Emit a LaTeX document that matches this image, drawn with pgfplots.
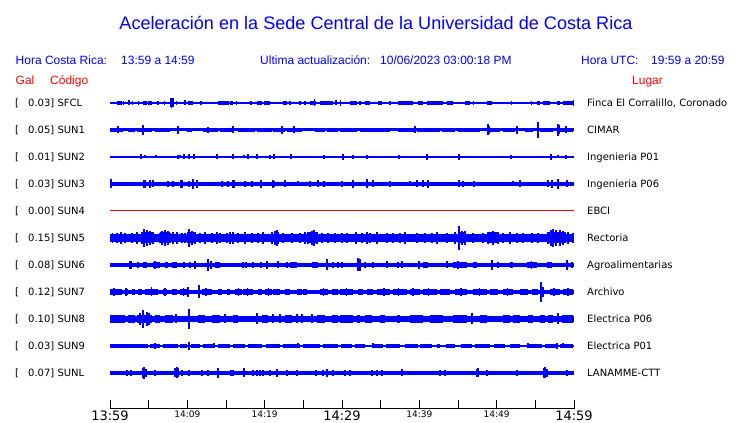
\documentclass[border=0pt]{standalone}
\usepackage{fontspec}
\usepackage{pgfplots}
\pgfplotsset{compat=1.18}
\setmainfont{DejaVu Sans}
\newfontfamily\lib{Liberation Sans}
\newfontfamily\dv{DejaVu Sans}
\newcommand{\BL}[1]{{\dv\fontsize{13}{13}\selectfont #1}}
\newcommand{\SL}[1]{{\dv\fontsize{9}{9}\selectfont #1}}
\pgfplotsset{
  base/.style={blue, line width=#1, line cap=butt},
  blk/.style={blue, line width=#1, line cap=butt, unbounded coords=jump},
  spk/.style={draw=none, error bars/y dir=both, error bars/y explicit, error bars/error mark=none,
    error bars/error bar style={draw=blue, line width=#1, line cap=butt}},
}
\begin{document}
\begin{tikzpicture}
\useasboundingbox (0,0) rectangle (740pt,423pt);
\begin{axis}[at={(110pt,14pt)}, anchor=south west,
  width=464pt, height=409pt, scale only axis,
  xmin=0, xmax=60, ymin=0, ymax=409, clip=false,
  axis x line=bottom, axis y line=none,
  x axis line style={-, line width=1pt, black},
  xtick={0,5,...,60}, ytick=\empty,
  tick align=inside, major tick length=9pt,
  xtick style={black, line width=0.8pt},
  xticklabels={\BL{13:59},,\SL{14:09},,\SL{14:19},,\BL{14:29},,\SL{14:39},,\SL{14:49},,\BL{14:59}},
  xticklabel style={anchor=north, inner sep=0pt, yshift=-2pt},
]
% ---------- SFCL (y=306)
\addplot[base=1.2] coordinates {(0,306) (60,306)};
\addplot[blk=3.5] table[row sep=\\] {x y\\
0.87 306\\ 1.51 306\\ nan nan\\ 2.81 306\\ 3.01 306\\ nan nan\\ 4.23 306\\ 4.75 306\\ nan nan\\
4.95 306\\ 5.39 306\\ nan nan\\ 6.04 306\\ 6.34 306\\ nan nan\\ 7.76 306\\ 8.28 306\\ nan nan\\
10.12 306\\ 10.77 306\\ nan nan\\ 11.64 306\\ 11.86 306\\ nan nan\\ 14.00 306\\ 15.39 306\\ nan nan\\
15.52 306\\ 15.94 306\\ nan nan\\ 18.10 306\\ 18.40 306\\ nan nan\\ 18.97 306\\ 19.62 306\\ nan nan\\
19.95 306\\ 20.65 306\\ nan nan\\ 22.41 306\\ 22.85 306\\ nan nan\\ 25.86 306\\ 26.60 306\\ nan nan\\
27.16 306\\ 28.88 306\\ nan nan\\ 31.03 306\\ 31.90 306\\ nan nan\\ 32.97 306\\ 33.62 306\\ nan nan\\
34.69 306\\ 35.13 306\\ nan nan\\ 37.28 306\\ 39.22 306\\ nan nan\\ 39.87 306\\ 40.51 306\\ nan nan\\
40.95 306\\ 43.10 306\\ nan nan\\ 43.54 306\\ 44.39 306\\ nan nan\\ 45.91 306\\ 46.55 306\\ nan nan\\
48.71 306\\ 49.36 306\\ nan nan\\ 55.18 306\\ 55.60 306\\ nan nan\\ 56.03 306\\ 56.90 306\\ nan nan\\
57.76 306\\ 58.19 306\\ nan nan\\ 58.62 306\\ 59.91 306\\};
\addplot[spk=1.2] table[row sep=\\, x=t, y=y, y error=h] {t y h\\
1.72 306 2\\ 2.46 306 2.5\\ 3.66 306 2\\ 7.02 306 2\\ 7.85 306 4.5\\ 8.0 306 5\\ 8.15 306 4.5\\
8.62 306 2\\ 9.70 306 2.5\\ 16.38 306 2\\ 23.28 306 2\\ 24.57 306 2\\ 25.22 306 2\\ 26.40 306 3.5\\
29.22 306 2.5\\ 29.85 306 3\\ 32.33 306 2\\ 36.21 306 2\\ 46.98 306 2\\ 51.94 306 2\\ 54.53 306 2\\ 59.97 306 3\\};
% ---------- SUN1 (y=279)
\addplot[base=3] coordinates {(0,279) (60,279)};
\addplot[blk=4.2] table[row sep=\\] {x y\\
0 279\\ 1.68 279\\ nan nan\\ 2.33 279\\ 3.23 279\\ nan nan\\ 3.49 279\\ 5.43 279\\ nan nan\\
5.82 279\\ 7.76 279\\ nan nan\\ 9.96 279\\ 10.60 279\\ nan nan\\ 12.03 279\\ 13.97 279\\ nan nan\\
14.22 279\\ 15.90 279\\ nan nan\\ 16.55 279\\ 18.75 279\\ nan nan\\ 19.01 279\\ 20.95 279\\ nan nan\\
21.08 279\\ 22.63 279\\ nan nan\\ 22.89 279\\ 24.83 279\\ nan nan\\ 26.51 279\\ 27.80 279\\ nan nan\\
28.06 279\\ 29.48 279\\ nan nan\\ 29.74 279\\ 31.94 279\\ nan nan\\ 32.33 279\\ 36.21 279\\ nan nan\\
37.24 279\\ 39.44 279\\ nan nan\\ 39.70 279\\ 42.67 279\\ nan nan\\ 42.93 279\\ 44.61 279\\ nan nan\\
45.00 279\\ 47.84 279\\ nan nan\\ 49.14 279\\ 50.43 279\\ nan nan\\ 50.82 279\\ 52.37 279\\ nan nan\\
53.66 279\\ 54.70 279\\ nan nan\\ 55.60 279\\ 57.28 279\\ nan nan\\ 57.80 279\\ 59.87 279\\};
\addplot[spk=1.2] table[row sep=\\, x=t, y=y, y error=h] {t y h\\
1.03 279 3.5\\ 4.27 279 5\\ 8.79 279 4\\ 12.67 279 3\\ 15.90 279 3.5\\ 22.24 279 4\\ 23.79 279 3.5\\
39.44 279 3.5\\ 48.88 279 5.5\\ 49.10 279 4\\ 52.63 279 4\\ 55.34 279 8\\ 57.93 279 6\\ 58.10 279 4.5\\ 58.97 279 3.5\\};
% ---------- SUN2 (y=252)
\addplot[base=1.2] coordinates {(0,252) (60,252)};
\addplot[spk=1.2] table[row sep=\\, x=t, y=y, y error=h] {t y h\\
4.01 252 2.5\\ 4.53 252 1.5\\ 5.95 252 1.5\\ 8.79 252 2\\ 9.05 252 1.5\\ 9.57 252 2.5\\ 10.22 252 2.5\\
10.86 252 2.5\\ 13.84 252 2.5\\ 15.90 252 2.5\\ 17.33 252 1.5\\ 17.84 252 2.5\\ 19.01 252 2.5\\ 20.69 252 2\\
21.21 252 2.5\\ 23.40 252 2.5\\ 27.67 252 2\\ 30.13 252 3\\ 31.42 252 2\\ 33.23 252 2\\ 37.37 252 2\\
40.99 252 3\\ 45.13 252 3\\ 51.85 252 2\\ 57.03 252 3\\ 57.93 252 1.5\\ 58.97 252 2\\};
% ---------- SUN3 (y=225)
\addplot[base=4.2] coordinates {(0,225) (60,225)};
\addplot[spk=1.5] table[row sep=\\, x=t, y=y, y error=h] {t y h\\
0.10 225 4.5\\ 4.40 225 4\\ 4.60 225 4\\ 5.17 225 4\\ 5.56 225 3.5\\ 7.50 225 3\\ 8.15 225 3\\ 9.10 225 4\\
9.30 225 4\\ 10.22 225 3\\ 10.73 225 5\\ 11.25 225 4\\ 14.48 225 3\\ 15.26 225 3\\ 15.90 225 4\\
16.05 225 4\\ 17.46 225 3\\ 18.36 225 3\\ 19.53 225 4\\ 21.08 225 4\\ 21.30 225 3\\ 22.63 225 3.5\\
24.31 225 2.5\\ 25.86 225 3\\ 26.90 225 3.5\\ 27.67 225 3\\ 30.00 225 3\\ 31.42 225 4\\ 33.23 225 4.5\\
34.01 225 3.5\\ 36.21 225 3\\ 38.79 225 2.5\\ 39.70 225 3.5\\ 40.48 225 3.5\\ 41.12 225 4\\ 45.13 225 3.5\\
45.65 225 3\\ 47.07 225 3\\ 52.11 225 2.5\\ 53.02 225 3.5\\ 56.64 225 3.5\\ 57.16 225 4\\ 57.93 225 5\\ 59.10 225 3.5\\};
% ---------- SUN4 (y=198)
\addplot[red, line width=1pt] coordinates {(0,198) (60,198)};
% ---------- SUN5 (y=171)
\addplot[base=8.5] coordinates {(0,171) (60,171)};
\addplot[blk=11] table[row sep=\\] {x y\\
4.0 171\\ 5.6 171\\ nan nan\\ 6.5 171\\ 7.8 171\\ nan nan\\ 10.0 171\\ 11.0 171\\ nan nan\\
21.2 171\\ 21.8 171\\ nan nan\\ 25.5 171\\ 26.8 171\\ nan nan\\ 45.0 171\\ 46.0 171\\ nan nan\\
48.8 171\\ 50.2 171\\ nan nan\\ 56.5 171\\ 59.0 171\\};
\addplot[spk=1.5] table[row sep=\\, x=t, y=y, y error=h] {t y h\\
0.30 171 5\\ 0.91 171 5\\ 1.42 171 6\\ 1.94 171 5\\ 2.84 171 5\\ 3.49 171 6\\ 4.14 171 6\\ 4.40 171 9\\
4.78 171 8\\ 5.17 171 7\\ 5.56 171 6\\ 6.47 171 5\\ 6.72 171 7\\ 7.11 171 8\\ 7.50 171 7\\ 7.76 171 5\\
8.15 171 6\\ 8.66 171 6\\ 9.31 171 5\\ 9.70 171 5\\ 10.22 171 9\\ 10.60 171 7\\ 10.99 171 6\\ 11.64 171 5\\
12.28 171 6\\ 13.19 171 5\\ 13.84 171 6\\ 14.22 171 5\\ 15.13 171 5\\ 15.52 171 6\\ 15.90 171 6\\ 16.55 171 5\\
17.46 171 6\\ 18.36 171 5\\ 19.14 171 5\\ 19.78 171 6\\ 20.95 171 6\\ 21.34 171 7\\ 21.59 171 8\\ 21.72 171 6\\
22.37 171 5\\ 23.53 171 5\\ 24.57 171 5\\ 25.22 171 6\\ 25.60 171 6\\ 26.12 171 7\\ 26.38 171 8\\ 26.77 171 6\\
27.41 171 5\\ 28.19 171 5\\ 29.09 171 5\\ 30.00 171 5\\ 30.65 171 5\\ 31.81 171 6\\ 32.59 171 5\\ 33.23 171 6\\
33.62 171 5\\ 34.53 171 6\\ 35.82 171 5\\ 36.59 171 5\\ 37.50 171 5\\ 38.15 171 6\\ 39.70 171 5\\ 40.73 171 5\\
41.64 171 5\\ 42.28 171 6\\ 43.58 171 5\\ 44.61 171 6\\ 45.13 171 12\\ 45.52 171 7\\ 45.91 171 7\\ 46.94 171 5\\
48.23 171 5\\ 48.88 171 6\\ 49.53 171 7\\ 50.17 171 6\\ 50.82 171 5\\ 51.72 171 6\\ 52.63 171 5\\ 53.41 171 5\\
54.57 171 5\\ 55.34 171 5\\ 56.64 171 6\\ 57.03 171 8\\ 57.28 171 9\\ 57.67 171 8\\ 58.19 171 8\\ 58.58 171 7\\
59.22 171 6\\ 59.87 171 5\\};
% ---------- SUN6 (y=144)
\addplot[base=3.5] coordinates {(0,144) (60,144)};
\addplot[blk=6.5] table[row sep=\\] {x y\\
4.27 144\\ 4.78 144\\ nan nan\\ 5.56 144\\ 6.47 144\\ nan nan\\ 7.11 144\\ 7.50 144\\ nan nan\\
8.02 144\\ 8.66 144\\ nan nan\\ 13.58 144\\ 14.22 144\\ nan nan\\ 19.40 144\\ 19.66 144\\ nan nan\\
23.28 144\\ 24.18 144\\ nan nan\\ 26.12 144\\ 26.90 144\\ nan nan\\ 40.48 144\\ 41.12 144\\ nan nan\\
44.35 144\\ 46.16 144\\ nan nan\\ 46.94 144\\ 47.46 144\\ nan nan\\ 51.72 144\\ 52.11 144\\ nan nan\\
53.92 144\\ 55.21 144\\ nan nan\\ 56.51 144\\ 57.16 144\\};
\addplot[spk=1.5] table[row sep=\\, x=t, y=y, y error=h] {t y h\\
2.59 144 4\\ 2.72 144 4\\ 3.62 144 3\\ 5.80 144 4\\ 9.57 144 3\\ 10.34 144 3\\ 10.99 144 4\\ 12.67 144 6\\ 13.06 144 4\\
17.20 144 3\\ 17.59 144 3\\ 18.49 144 3\\ 20.30 144 4\\ 21.72 144 3.5\\ 22.89 144 3\\ 28.06 144 5.5\\
28.84 144 3\\ 29.48 144 3\\ 30.00 144 3\\ 32.07 144 6.5\\ 32.33 144 6\\ 32.97 144 3\\ 34.01 144 3\\
35.82 144 3.5\\ 37.24 144 3\\ 37.76 144 3.5\\ 39.96 144 4\\ 43.58 144 3.5\\ 45.0 144 4\\ 49.40 144 5\\ 50.17 144 3\\
54.5 144 4\\ 59.10 144 5\\ 59.74 144 3\\};
% ---------- SUN7 (y=117)
\addplot[base=4.5] coordinates {(0,117) (60,117)};
\addplot[blk=6.2] table[row sep=\\] {x y\\
0 117\\ 1.55 117\\ nan nan\\ 1.94 117\\ 2.33 117\\ nan nan\\ 2.84 117\\ 3.23 117\\ nan nan\\
3.62 117\\ 4.14 117\\ nan nan\\ 4.53 117\\ 6.21 117\\ nan nan\\ 6.85 117\\ 7.37 117\\ nan nan\\
8.02 117\\ 8.66 117\\ nan nan\\ 9.05 117\\ 9.96 117\\ nan nan\\ 11.90 117\\ 13.19 117\\ nan nan\\
13.97 117\\ 14.48 117\\ nan nan\\ 15.13 117\\ 15.52 117\\ nan nan\\ 16.16 117\\ 17.07 117\\ nan nan\\
17.20 117\\ 18.49 117\\ nan nan\\ 19.14 117\\ 19.66 117\\ nan nan\\ 20.04 117\\ 20.95 117\\ nan nan\\
21.08 117\\ 21.98 117\\ nan nan\\ 22.63 117\\ 23.28 117\\ nan nan\\ 24.18 117\\ 24.83 117\\ nan nan\\
24.96 117\\ 25.47 117\\ nan nan\\ 27.16 117\\ 28.19 117\\ nan nan\\ 28.71 117\\ 29.48 117\\ nan nan\\
29.74 117\\ 31.42 117\\ nan nan\\ 32.07 117\\ 32.72 117\\ nan nan\\ 33.23 117\\ 34.01 117\\ nan nan\\
34.53 117\\ 36.21 117\\ nan nan\\ 36.59 117\\ 38.40 117\\ nan nan\\ 38.79 117\\ 40.09 117\\ nan nan\\
40.48 117\\ 42.28 117\\ nan nan\\ 42.67 117\\ 43.97 117\\ nan nan\\ 44.61 117\\ 46.16 117\\ nan nan\\
46.94 117\\ 48.75 117\\ nan nan\\ 49.14 117\\ 50.17 117\\ nan nan\\ 50.82 117\\ 52.11 117\\ nan nan\\
53.02 117\\ 54.05 117\\ nan nan\\ 54.57 117\\ 55.34 117\\ nan nan\\ 56.90 117\\ 58.19 117\\ nan nan\\
58.58 117\\ 59.87 117\\};
\addplot[spk=1.5] table[row sep=\\, x=t, y=y, y error=h] {t y h\\
0.5 117 4\\ 2.1 117 4\\ 5.39 117 4.5\\ 7.1 117 4\\ 9.5 117 4\\ 10.09 117 5\\ 11.51 117 6.5\\ 12.4 117 4\\
16.6 117 4\\ 17.8 117 4\\ 20.5 117 4\\ 27.6 117 4\\ 30.6 117 4\\ 35.4 117 4\\ 37.3 117 4\\ 39.2 117 4\\
41.2 117 4\\ 45.4 117 4\\ 47.8 117 4\\ 51.4 117 4\\ 55.73 117 10\\ 55.99 117 5\\ 57.4 117 4\\ 59.2 117 4\\};
% ---------- SUN8 (y=90)
\addplot[base=6] coordinates {(0,90) (60,90)};
\addplot[blk=8.5] table[row sep=\\] {x y\\
0 90\\ 1.94 90\\ nan nan\\ 2.33 90\\ 3.23 90\\ nan nan\\ 3.49 90\\ 5.43 90\\ nan nan\\
5.82 90\\ 6.47 90\\ nan nan\\ 7.11 90\\ 8.15 90\\ nan nan\\ 11.38 90\\ 12.28 90\\ nan nan\\
13.19 90\\ 14.22 90\\ nan nan\\ 15.90 90\\ 16.55 90\\ nan nan\\ 19.66 90\\ 20.43 90\\ nan nan\\
22.63 90\\ 23.53 90\\ nan nan\\ 26.77 90\\ 27.80 90\\ nan nan\\ 28.71 90\\ 29.48 90\\ nan nan\\
29.74 90\\ 31.42 90\\ nan nan\\ 31.94 90\\ 32.33 90\\ nan nan\\ 32.97 90\\ 33.88 90\\ nan nan\\
34.91 90\\ 35.56 90\\ nan nan\\ 37.11 90\\ 37.50 90\\ nan nan\\ 38.79 90\\ 40.48 90\\ nan nan\\
41.38 90\\ 43.06 90\\ nan nan\\ 44.35 90\\ 46.16 90\\ nan nan\\ 47.84 90\\ 48.75 90\\ nan nan\\
50.82 90\\ 51.72 90\\ nan nan\\ 52.11 90\\ 53.02 90\\ nan nan\\ 54.05 90\\ 54.70 90\\ nan nan\\
55.60 90\\ 56.25 90\\ nan nan\\ 56.64 90\\ 57.28 90\\ nan nan\\ 58.45 90\\ 59.87 90\\};
\addplot[spk=1.5] table[row sep=\\, x=t, y=y, y error=h] {t y h\\
3.88 90 6\\ 4.27 90 9\\ 4.78 90 7\\ 5.04 90 6\\ 8.53 90 4.5\\ 10.22 90 10\\ 14.87 90 4.5\\ 19.01 90 5.5\\
21.08 90 4.5\\ 21.98 90 4.5\\ 24.18 90 4.5\\ 24.83 90 4.5\\ 26.12 90 4.5\\ 46.81 90 5.5\\ 57.93 90 5.5\\};
% ---------- SUN9 (y=63)
\addplot[base=1.5] coordinates {(0,63) (60,63)};
\addplot[blk=3.1] table[row sep=\\] {x y\\
0 63\\ 4.91 63\\ nan nan\\ 5.17 63\\ 6.47 63\\ nan nan\\ 6.85 63\\ 8.79 63\\ nan nan\\
9.05 63\\ 9.96 63\\ nan nan\\ 10.47 63\\ 11.64 63\\ nan nan\\ 12.03 63\\ 13.58 63\\ nan nan\\
13.97 63\\ 15.52 63\\ nan nan\\ 15.90 63\\ 17.46 63\\ nan nan\\ 17.84 63\\ 19.66 63\\ nan nan\\
20.17 63\\ 21.98 63\\ nan nan\\ 22.37 63\\ 24.57 63\\ nan nan\\ 24.96 63\\ 27.16 63\\ nan nan\\
27.54 63\\ 29.48 63\\ nan nan\\ 29.87 63\\ 31.29 63\\ nan nan\\ 31.68 63\\ 32.97 63\\ nan nan\\
33.88 63\\ 35.30 63\\ nan nan\\ 35.69 63\\ 37.50 63\\ nan nan\\ 38.15 63\\ 39.83 63\\ nan nan\\
40.09 63\\ 41.64 63\\ nan nan\\ 42.28 63\\ 42.67 63\\ nan nan\\ 43.45 63\\ 44.61 63\\ nan nan\\
45.39 63\\ 46.81 63\\ nan nan\\ 47.20 63\\ 49.14 63\\ nan nan\\ 49.66 63\\ 51.08 63\\ nan nan\\
51.72 63\\ 53.02 63\\ nan nan\\ 53.92 63\\ 55.86 63\\ nan nan\\ 56.25 63\\ 57.67 63\\ nan nan\\
58.19 63\\ 59.87 63\\};
\addplot[spk=1.2] table[row sep=\\, x=t, y=y, y error=h] {t y h\\
5.82 63 3\\ 10.22 63 4\\ 13.45 63 2.5\\ 24.31 63 2.5\\ 34.01 63 2.5\\ 54.05 63 2.5\\ 57.80 63 3\\ 58.58 63 2.5\\};
% ---------- SUNL (y=36)
\addplot[base=4] coordinates {(0,36) (60,36)};
\addplot[spk=1.5] table[row sep=\\, x=t, y=y, y error=h] {t y h\\
2.20 36 3\\ 2.72 36 3\\ 4.27 36 5\\ 4.40 36 6\\ 4.66 36 4\\ 5.82 36 3\\ 8.41 36 4.5\\ 8.66 36 5.5\\
8.79 36 4.5\\ 9.31 36 3\\ 10.22 36 3\\ 11.90 36 3\\ 12.67 36 3\\ 13.97 36 5\\ 15.65 36 3\\ 15.90 36 3\\
17.33 36 4.5\\ 18.49 36 3\\ 19.01 36 3\\ 19.40 36 3\\ 19.78 36 3\\ 20.69 36 3\\ 21.59 36 4\\ 22.89 36 3\\
24.18 36 3\\ 26.64 36 3\\ 27.54 36 3\\ 28.06 36 4\\ 28.84 36 3\\ 30.39 36 3\\ 31.03 36 3\\ 33.88 36 3\\
34.53 36 3\\ 35.17 36 3\\ 37.76 36 3.5\\ 42.67 36 3\\ 43.32 36 3\\ 47.46 36 4\\ 47.59 36 4.5\\ 48.75 36 3\\
52.63 36 3\\ 56.12 36 5\\ 56.25 36 5.5\\ 56.51 36 4\\ 59.10 36 3\\};
\end{axis}
% ---------- texts
\node[anchor=base, inner sep=0pt, blue, font={\lib\fontsize{18.1}{20}\selectfont}] at (376pt,393.5pt)
  {Aceleración en la Sede Central de la Universidad de Costa Rica};
\begin{scope}[every node/.style={anchor=base west, inner sep=0pt}]
  \begin{scope}[every node/.append style={blue, font={\lib\fontsize{12}{14}\selectfont}}]
    \node at (15.5pt,358.5pt) {Hora Costa Rica:};
    \node at (121pt,358.5pt) {13:59 a 14:59};
    \node at (260pt,358.5pt) {Ultima actualización:};
    \node at (380pt,358.5pt) {10/06/2023 03:00:18 PM};
    \node at (581pt,358.5pt) {Hora UTC:};
    \node at (651pt,358.5pt) {19:59 a 20:59};
  \end{scope}
  \begin{scope}[every node/.append style={red, font={\lib\fontsize{12}{14}\selectfont}}]
    \node at (15.5pt,338pt) {Gal};
    \node at (50pt,338pt) {Código};
    \node at (632pt,338pt) {Lugar};
  \end{scope}
  \begin{scope}[every node/.append style={black, font={\dv\fontsize{10}{12}\selectfont}}]
    \foreach \yy/\g/\c/\l in {316.3/0.03/SFCL/{Finca El Corralillo, Coronado},
        289.3/0.05/SUN1/CIMAR, 262.3/0.01/SUN2/Ingenieria P01, 235.3/0.03/SUN3/Ingenieria P06,
        208.3/0.00/SUN4/EBCI, 181.3/0.15/SUN5/Rectoria, 154.3/0.08/SUN6/Agroalimentarias,
        127.3/0.12/SUN7/Archivo, 100.3/0.10/SUN8/Electrica P06, 73.3/0.03/SUN9/Electrica P01,
        46.3/0.07/SUNL/LANAMME-CTT}{
      \node at (15pt,\yy pt) {[};
      \node at (28pt,\yy pt) {\g] \c};
      \node at (587pt,\yy pt) {\l};
    }
  \end{scope}
\end{scope}
\end{tikzpicture}
\end{document}
